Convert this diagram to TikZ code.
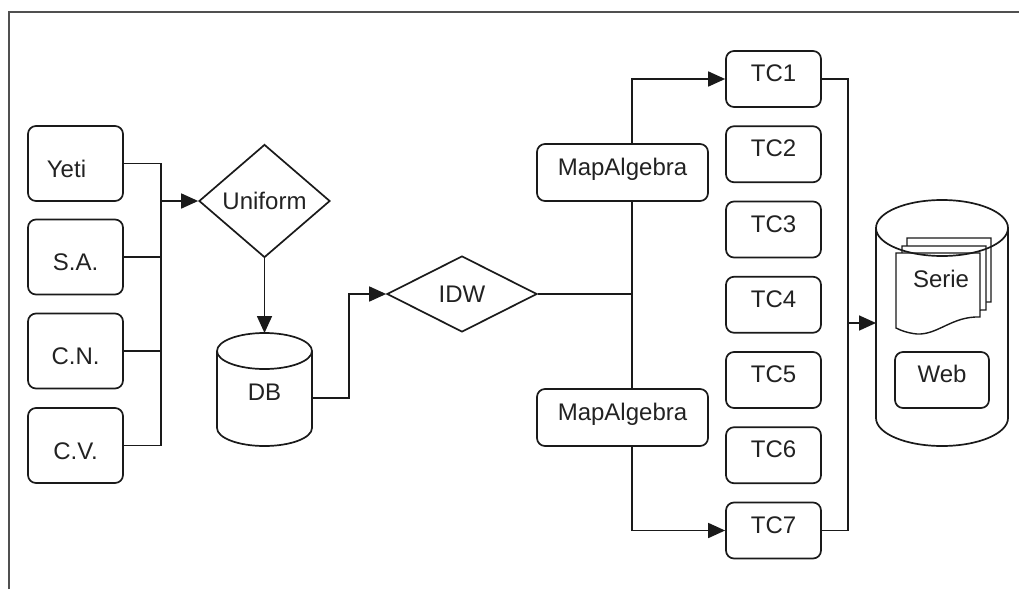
\documentclass[tikz,border=0pt]{standalone}
\usepackage{fontspec}
\setmainfont{Liberation Sans}
\usetikzlibrary{shapes.geometric,arrows.meta}
\newcommand\diaglabel{\fontsize{24}{28}\selectfont}
\definecolor{linec}{HTML}{1A1A1A}
\definecolor{textc}{HTML}{222222}
\definecolor{framec}{HTML}{505050}
\begin{document}
\begin{tikzpicture}[x=1pt,y=-1pt,
  line/.style={draw=linec, line width=1.7pt},
  arr/.style={line, -{Triangle[length=17pt,width=15pt]}},
  box/.style={draw=linec, line width=1.7pt, rounded corners=8pt, fill=white,
    inner sep=0pt, font=\diaglabel, text=textc},
  srcbox/.style={box, minimum width=95pt, minimum height=75pt, text height=27pt, text depth=0pt},
  tcbox/.style={box, minimum width=95pt, minimum height=56pt, text height=17pt, text depth=12pt},
  mabox/.style={box, minimum width=171pt, minimum height=57pt, text height=17pt, text depth=12pt},
  decision/.style={diamond, draw=linec, line width=1.7pt, fill=white, inner sep=0pt,
    font=\diaglabel, text=textc},
  hidden/.style={inner sep=0pt, outer sep=0pt, font=\diaglabel, text=textc}
]
\useasboundingbox (0,0) rectangle (1019,589);
% frame
\draw[framec, line width=2.4pt] (9,589) -- (9,12) -- (1019,12);

% sources
\node[srcbox] (yeti) at (75.5,163.5) {Yeti\hspace*{18pt}};
\node[srcbox] (sa) at (75.5,257) {S.A.};
\node[srcbox] (cn) at (75.5,351) {C.N.};
\node[srcbox] (cv) at (75.5,445.5) {C.V.};

% uniform
\node[decision, minimum width=131pt, minimum height=113pt] (uniform) at (264.5,201) {Uniform};

% DB cylinder
\node[hidden, minimum width=95pt, minimum height=113pt] (db) at (264.5,389.5) {};
\draw[line, fill=white] (217,351) -- (217,428) arc[start angle=180, end angle=360, x radius=47.5pt, y radius=18pt] -- (312,351);
\draw[line] (264.5,351) ellipse [x radius=47.5pt, y radius=18pt];
\node[hidden] (dblabel) at (264.5,392) {DB};

% IDW
\node[decision, minimum width=150pt, minimum height=76pt] (idw) at (462,294) {IDW};

% MapAlgebra
\node[mabox] (ma1) at (622.5,172.5) {MapAlgebra};
\node[mabox] (ma2) at (622.5,417.5) {MapAlgebra};

% TC boxes
\node[tcbox] (tc1) at (773.5,79) {TC1};
\node[tcbox] (tc2) at (773.5,154.25) {TC2};
\node[tcbox] (tc3) at (773.5,229.5) {TC3};
\node[tcbox] (tc4) at (773.5,304.75) {TC4};
\node[tcbox] (tc5) at (773.5,380) {TC5};
\node[tcbox] (tc6) at (773.5,455.25) {TC6};
\node[tcbox] (tc7) at (773.5,530.5) {TC7};

% storage cylinder
\node[hidden, minimum width=132pt, minimum height=246pt] (store) at (942,323) {};
\draw[line, fill=white] (876,228) -- (876,418) arc[start angle=180, end angle=360, x radius=66pt, y radius=28pt] -- (1008,228);
\foreach \dx/\dy in {11/-15, 6/-7, 0/0}{
  \draw[line, line width=1.4pt, fill=white, shift={(\dx,\dy)}]
    (896,253) -- (980,253) -- (980,317)
    .. controls (952,316) and (938,335) .. (917,334)
    .. controls (907,333) and (900,330) .. (896,328) -- cycle;
}
\draw[line] (942,228) ellipse [x radius=66pt, y radius=28pt];
\node[hidden] (serie) at (941,279) {Serie};
\node[tcbox, minimum width=94pt] (web) at (942,380) {Web};

% connectors: sources -> uniform
\coordinate (b) at (161,201);
\draw[line] (yeti.east) -| (b);
\draw[line] (cv.east) -| (b);
\draw[line] (sa.east) -- (sa.east -| b);
\draw[line] (cn.east) -- (cn.east -| b);
\draw[arr] (b) -- (uniform.west);

% uniform -> db
\draw[arr] (uniform.south) -- (db.north);

% db -> idw
\draw[arr] ([yshift=-8.5pt]db.east) -- ++(37,0) |- (idw.west);

% idw -> mapalgebra -> tc
\coordinate (j) at (632,294);
\draw[line] (idw.east) -- (j);
\draw[line] (j) -- (j |- ma1.south);
\draw[line] (j) -- (j |- ma2.north);
\draw[arr] (j |- ma1.north) |- (tc1.west);
\draw[arr] (j |- ma2.south) |- (tc7.west);

% tc -> storage
\coordinate (s) at (848,323);
\draw[line] (tc1.east) -| (s) |- (tc7.east);
\draw[arr] (s) -- (store.west);
\end{tikzpicture}
\end{document}
